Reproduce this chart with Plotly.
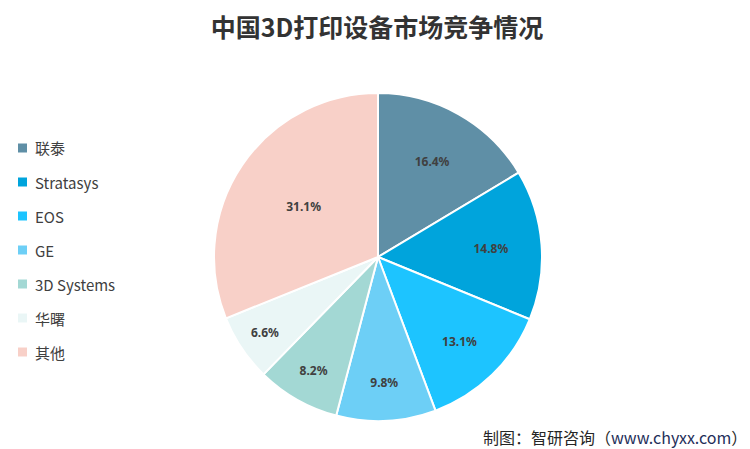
import plotly.graph_objects as go

labels = ["联泰", "Stratasys", "EOS", "GE", "3D Systems", "华曙", "其他"]
values = [16.4, 14.8, 13.1, 9.8, 8.2, 6.6, 31.1]
colors = ["#5F8FA6", "#00A4DC", "#1DC4FF", "#6DCFF6", "#A3D8D4", "#EAF6F6", "#F8D0C8"]

W, H = 750, 449
fig = go.Figure()
fig.add_trace(go.Pie(
    labels=labels, values=values, sort=False, direction="clockwise", rotation=0,
    marker=dict(colors=colors, line=dict(color="white", width=2)),
    texttemplate="%{value:.1f}%", textposition="inside", insidetextorientation="horizontal",
    textfont=dict(family="Noto Sans, sans-serif", size=12, color="#404040", weight="bold"),
    domain=dict(x=[(378 - 164) / W, (378 + 164) / W], y=[1 - 421 / H, 1 - 93 / H]),
    showlegend=False, hoverinfo="label+percent",
))

# manual legend
shapes = []
annotations = []
y0 = 148
step = 34
for i, (lab, col) in enumerate(zip(labels, colors)):
    yc = y0 + i * step
    shapes.append(dict(type="rect", xref="paper", yref="paper",
                       x0=18 / W, x1=27 / W, y0=1 - (yc + 4.5) / H, y1=1 - (yc - 4.5) / H,
                       fillcolor=col, line=dict(width=0)))
    annotations.append(dict(x=33 / W, y=1 - yc / H, xref="paper", yref="paper", text=lab,
                            showarrow=False, xanchor="left", yanchor="middle",
                            font=dict(family="Noto Sans CJK SC, Noto Sans, sans-serif", size=15, color="#404040")))

annotations.append(dict(x=749 / W, y=1 - 437 / H, xref="paper", yref="paper",
                        text="制图：智研咨询（<span style='color:#1F2F5A'>www.chyxx.com</span>）",
                        showarrow=False, xanchor="right", yanchor="middle",
                        font=dict(family="Noto Sans CJK SC, sans-serif", size=16, color="#262626")))

fig.update_layout(
    width=W, height=H, margin=dict(l=0, r=0, t=0, b=0),
    paper_bgcolor="white", plot_bgcolor="white",
    title=dict(text="<b>中国3D打印设备市场竞争情况</b>", x=377 / W, xanchor="center",
               y=1 - 28 / H, yanchor="middle",
               font=dict(family="Noto Sans CJK SC, sans-serif", size=25, color="#333333")),
    shapes=shapes, annotations=annotations,
)
fig.write_html("out.html", config={"displayModeBar": False},
               post_script="document.body.style.margin='0';document.body.style.overflow='hidden';")
